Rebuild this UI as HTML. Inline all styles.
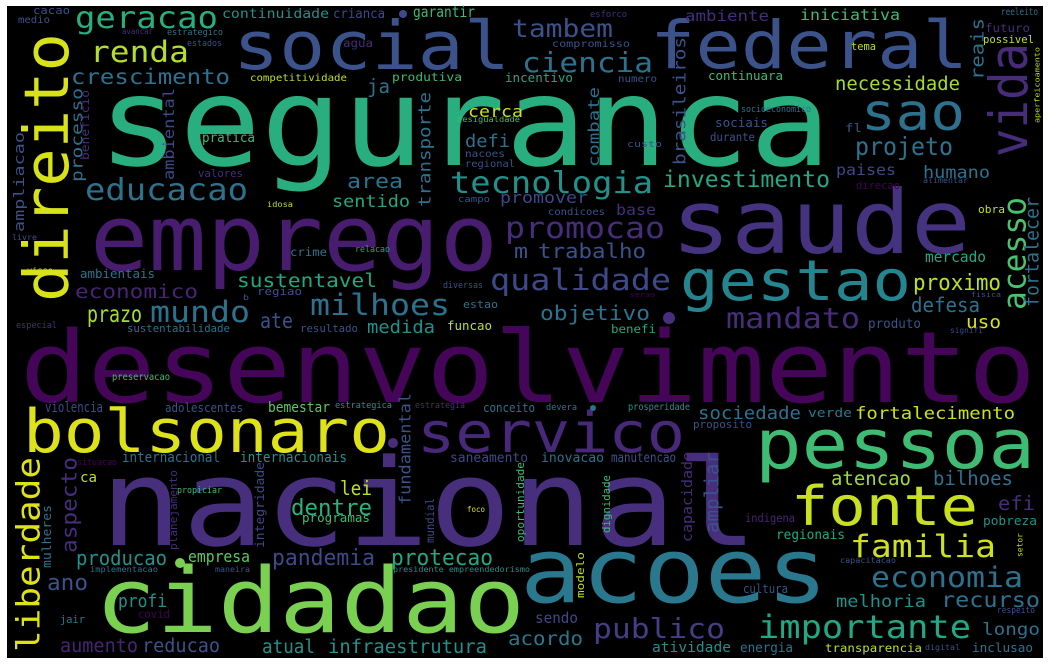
<!DOCTYPE html>
<html><head><meta charset="utf-8">
<style>
html,body{margin:0;padding:0;background:#fff;}
svg{display:block;}
text{font-family:"DejaVu Sans Mono","Liberation Mono",monospace;}
</style></head>
<body>
<svg id="cloud" width="1058" height="666" viewBox="0 0 1058 666" xmlns="http://www.w3.org/2000/svg">
<rect x="7" y="6" width="1036" height="652" fill="#000"/>
<g id="words"></g>
</svg>
<script>
// horizontal words: [word, left x, baseline y, width, font size, color]
const hWords = [
["desenvolvimento",20,402,1016,113,"#450559"],
["seguranca",98,165,733,140,"#29af7f"],
["nacional",100,545,658,137,"#472f7d"],
["cidadao",95,632,430,102,"#7ad151"],
["acoes",520,602,308,102,"#2a788e"],
["emprego",90,270,408,104,"#481c6e"],
["saude",671,253,300,100,"#46337f"],
["social",233,69,277,76,"#3b528b"],
["federal",650,68,318,75,"#3b528b"],
["pessoa",755,468,280,78,"#3fbc73"],
["bolsonaro",23,452,367,68,"#dde318"],
["servico",417,452,268,64,"#482878"],
["gestao",680,300,231,64,"#25858e"],
["fonte",791,525,187,62,"#c8e020"],
["sao",861,130,104,58,"#2c728e"],
["mandato",726,328,134,32,"#472d7b"],
["importante",758,638,213,36,"#22a884"],
["familia",850,557,146,35,"#d0e11c"],
["economia",871,587,152,32,"#2c728e"],
["publico",593,638,132,31,"#433e85"],
["recurso",941,607,99,24,"#2c728e"],
["melhoria",836,607,90,19,"#21918c"],
["longo",982,635,58,19,"#2c728e"],
["inclusao",972,652,61,14,"#2c728e"],
["transparencia",825,652,97,13,"#bddf26"],
["digital",925,650,35,9,"#3b528b"],
["energia",740,652,53,15,"#2c728e"],
["atividade",652,652,79,16,"#21918c"],
["acordo",508,645,75,21,"#2a788e"],
["sendo",535,623,43,17,"#3e4989"],
["cultura",743,593,45,14,"#3b528b"],
["respeito",997,613,38,10,"#3b528b"],
["capacitacao",840,563,56,9,"#3b528b"],
["regionais",776,539,69,15,"#22a884"],
["indigena",745,522,50,13,"#482475"],
["pobreza",983,525,54,14,"#21918c"],
["efi",998,510,37,22,"#472d7b"],
["atencao",831,485,80,22,"#a0da39"],
["bilhoes",933,485,80,22,"#2c728e"],
["sociedade",698,419,103,20,"#2c728e"],
["verde",808,417,44,14,"#2a788e"],
["fortalecimento",855,419,160,19,"#cae11f"],
["proposito",693,428,59,12,"#3b528b"],
["prosperidade",628,410,62,11,"#21918c"],
["devera",546,410,31,10,"#2a788e"],
["inovacao",541,462,63,15,"#2c728e"],
["manutencao",611,462,65,15,"#3b528b"],
["saneamento",450,462,78,15,"#3e4989"],
["conceito",483,412,52,14,"#2c728e"],
["violencia",45,412,58,16,"#3e4989"],
["adolescentes",165,412,78,14,"#3b528b"],
["bemestar",268,412,62,16,"#5ec962"],
["estrategica",335,408,57,10,"#21918c"],
["estrategia",415,408,50,10,"#472d7b"],
["internacional",122,462,98,16,"#2c728e"],
["internacionais",240,462,107,16,"#21918c"],
["situacao",77,465,40,10,"#440154"],
["ca",80,482,17,16,"#bddf26"],
["lei",340,495,32,22,"#bddf26"],
["dentre",291,515,81,25,"#2db27d"],
["programas",302,522,68,14,"#3dbc74"],
["propiciar",177,493,45,10,"#3dbc74"],
["foco",467,512,18,9,"#dde318"],
["producao",76,565,91,23,"#21918c"],
["empresa",188,562,62,18,"#5ec962"],
["pandemia",272,565,103,25,"#3e4a89"],
["protecao",391,565,102,25,"#22a884"],
["implementacao",90,572,68,9,"#2c728e"],
["maneira",215,572,35,9,"#3b528b"],
["presidente empreendedorismo",393,572,137,9,"#21918c"],
["ano",47,590,41,25,"#3b528b"],
["profi",118,607,49,20,"#21918c"],
["covid",138,618,32,13,"#440154"],
["jair",60,623,25,12,"#2a788e"],
["aumento",60,652,78,21,"#482475"],
["reducao",142,652,78,21,"#3b528b"],
["atual",262,653,53,21,"#21918c"],
["infraestrutura",328,653,159,21,"#21918c"],
["preservacao",112,380,58,11,"#3dbc74"],
["geracao",75,28,143,34,"#29af7f"],
["renda",90,62,99,33,"#b5de2b"],
["crescimento",71,84,159,24,"#2c728e"],
["continuidade",222,18,107,15,"#21918c"],
["crianca",333,18,52,15,"#3e4989"],
["garantir",413,17,62,17,"#3dbc74"],
["cacao",33,14,37,12,"#3b528b"],
["medio",18,23,32,11,"#3b528b"],
["avancar",122,34,31,9,"#472d7b"],
["estrategico",167,35,56,10,"#2c728e"],
["estados",187,46,35,10,"#3b528b"],
["agua",343,47,30,13,"#472d7b"],
["competitividade",250,81,97,11,"#c0df25"],
["produtiva",392,81,70,13,"#3dbc74"],
["incentivo",505,82,68,14,"#22a884"],
["ja",367,93,23,22,"#2c728e"],
["cerca",468,117,55,18,"#c8e020"],
["desigualdade",457,122,63,9,"#3dbc74"],
["pratica",202,142,53,15,"#3dbc74"],
["defi",465,147,45,20,"#2c728e"],
["nacoes",465,157,40,11,"#3b528b"],
["regional",465,167,50,11,"#3b528b"],
["custo",627,147,35,10,"#3b528b"],
["valores",198,177,45,12,"#472d7b"],
["educacao",85,200,163,34,"#2c728e"],
["area",347,188,56,23,"#2c728e"],
["sentido",332,207,78,19,"#22a884"],
["idosa",267,207,26,9,"#bddf26"],
["campo",458,202,32,10,"#3b528b"],
["tecnologia",450,193,203,34,"#21918c"],
["tambem",512,37,101,28,"#3b528b"],
["ciencia",522,72,131,31,"#2c728e"],
["compromisso",552,47,78,11,"#3b528b"],
["esforco",590,17,37,10,"#472d7b"],
["numero",618,82,39,11,"#3b528b"],
["ambiente",685,21,84,17,"#472d7b"],
["livre",12,240,25,9,"#3b528b"],
["visao",27,273,26,9,"#bddf26"],
["crime",290,256,37,13,"#2c728e"],
["relacao",355,252,35,10,"#22a884"],
["ambientais",80,278,75,14,"#2c728e"],
["sustentavel",237,287,140,21,"#22a884"],
["economico",75,298,123,21,"#482475"],
["diversas",443,288,40,10,"#3b528b"],
["regiao",257,295,45,12,"#3b528b"],
["b",243,300,6,9,"#3b528b"],
["milhoes",310,315,140,33,"#2c728e"],
["mundo",150,322,100,33,"#2c728e"],
["prazo",87,322,55,26,"#a5db36"],
["estao",463,308,35,12,"#2c728e"],
["ate",260,328,33,24,"#3b528b"],
["medida",367,333,68,20,"#21918c"],
["funcao",447,330,45,14,"#bddf26"],
["resultado",300,332,58,12,"#3b528b"],
["sustentabilidade",127,332,103,12,"#2c728e"],
["especial",16,328,41,10,"#472d7b"],
["iniciativa",800,20,100,17,"#3dbc74"],
["reeleito",1001,15,37,11,"#2c728e"],
["futuro",985,32,45,13,"#472d7b"],
["possivel",983,43,51,12,"#bddf26"],
["tema",851,50,25,12,"#bddf26"],
["continuara",708,80,75,14,"#3dbc74"],
["necessidade",835,90,125,21,"#a5db36"],
["socioeconomico",741,112,70,10,"#2c728e"],
["sociais",715,127,53,14,"#3b528b"],
["durante",710,141,45,13,"#3b528b"],
["fl",845,132,17,13,"#3b528b"],
["projeto",855,155,98,28,"#2c728e"],
["paises",836,175,60,17,"#3e4989"],
["humano",923,178,67,19,"#2c728e"],
["direcao",856,189,44,12,"#440154"],
["alimentar",923,183,45,9,"#3b528b"],
["investimento",663,187,167,26,"#22a884"],
["promover",500,203,88,18,"#3e4989"],
["condicoes",548,215,57,11,"#3b528b"],
["base",616,215,40,17,"#472d7b"],
["promocao",505,238,160,33,"#472d7b"],
["m",514,258,14,23,"#3b528b"],
["trabalho",538,258,108,23,"#3b528b"],
["qualidade",490,290,181,33,"#3e4989"],
["objetivo",540,320,110,23,"#2c728e"],
["benefi",611,333,45,13,"#22a884"],
["produto",868,328,53,15,"#3b528b"],
["uso",966,328,35,20,"#dde318"],
["signifi",950,333,33,9,"#3e4989"],
["defesa",911,312,69,23,"#2c728e"],
["proximo",913,290,88,25,"#bddf26"],
["mercado",925,262,61,17,"#22a884"],
["fisica",971,297,30,8,"#3b528b"],
["serao",630,297,25,8,"#440154"],
["obra",978,213,27,12,"#bddf26"]
];
// vertical words (read upward): [word, right x, bottom y, length, font size, color]
const vWords = [
["direito",73,302,269,70,"#d8e219"],
["vida",1031,157,114,60,"#472c7a"],
["liberdade",42,652,195,36,"#dde318"],
["aspecto",78,553,96,24,"#472d7b"],
["acesso",1028,310,113,36,"#4ac16d"],
["fortalecer",1040,307,110,21,"#2c728e"],
["reais",985,80,62,20,"#2c728e"],
["aperfeicoamento",1040,123,76,8,"#bddf26"],
["combate",600,167,80,17,"#2c728e"],
["brasileiros",687,165,128,19,"#3b528b"],
["transporte",432,207,115,19,"#2c728e"],
["ambiental",175,180,92,17,"#3e4989"],
["processo",84,182,94,18,"#2c728e"],
["beneficio",90,160,70,13,"#472d7b"],
["ampliacao",25,232,100,16,"#3b528b"],
["capacidade",693,542,90,16,"#472d7b"],
["ampliar",720,533,81,22,"#3b528b"],
["dignidade",611,533,58,12,"#3dbc74"],
["modelo",585,598,46,12,"#bddf26"],
["setor",1023,557,24,9,"#bddf26"],
["integridade",265,548,86,14,"#3e4989"],
["planejamento",178,550,80,12,"#472d7b"],
["mundial",435,543,45,13,"#3e4989"],
["oportunidade",525,542,80,12,"#3dbc74"],
["mulheres",52,568,63,14,"#2c728e"],
["fundamental",412,505,112,18,"#3b528b"]
];
// stray dots: [x, y, radius, color]
const dots = [[403,14,4,"#3e4989"],[669,318,6,"#472d7b"],[393,443,5,"#472d7b"],[180,563,5,"#7ad151"],[593,408,3,"#2c728e"]];

const SCALE = 0.88;
const NS = "http://www.w3.org/2000/svg";
const layer = document.getElementById("words");
function slug(s){return s.replace(/\s+/g,"-");}
hWords.forEach(function(w){
  const t = document.createElementNS(NS,"text");
  t.setAttribute("x", w[1]);
  t.setAttribute("y", w[2]);
  t.setAttribute("font-size", (w[4]*SCALE).toFixed(1));
  t.setAttribute("fill", w[5]);
  t.setAttribute("textLength", w[3]);
  t.setAttribute("lengthAdjust", "spacingAndGlyphs");
  
  
  t.textContent = w[0];
  layer.appendChild(t);
});
vWords.forEach(function(w){
  const t = document.createElementNS(NS,"text");
  const fs = w[4]*SCALE;
  const bx = w[1] - fs*0.08;
  t.setAttribute("x", bx);
  t.setAttribute("y", w[2]);
  t.setAttribute("transform", "rotate(-90 " + bx + " " + w[2] + ")");
  t.setAttribute("font-size", fs.toFixed(1));
  t.setAttribute("fill", w[5]);
  t.setAttribute("textLength", w[3]);
  t.setAttribute("lengthAdjust", "spacingAndGlyphs");
  
  
  t.textContent = w[0];
  layer.appendChild(t);
});
dots.forEach(function(d){
  const c = document.createElementNS(NS,"circle");
  c.setAttribute("cx", d[0]);
  c.setAttribute("cy", d[1]);
  c.setAttribute("r", d[2]);
  c.setAttribute("fill", d[3]);
  
  
  layer.appendChild(c);
});
</script>
</body></html>
